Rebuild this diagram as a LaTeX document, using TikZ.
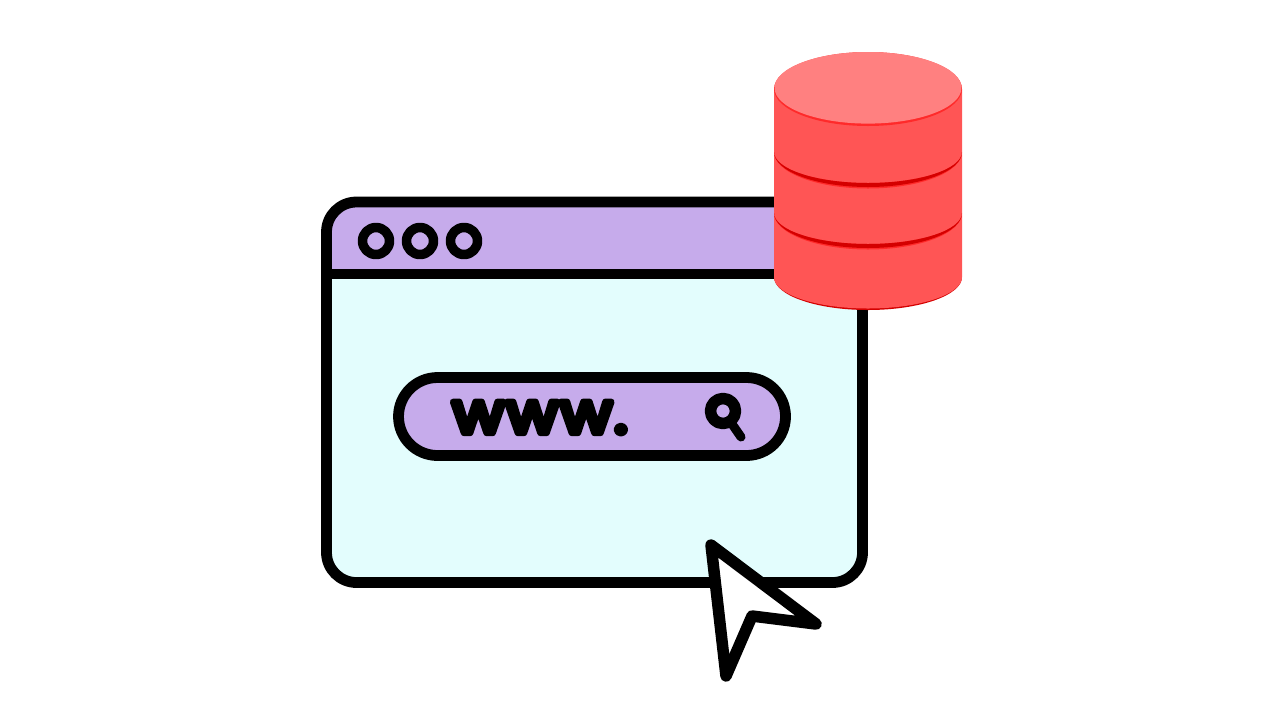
\documentclass[tikz,border=0pt]{standalone}
\usepackage{xcolor}
\usepackage{fontspec}
\usepackage{tikz}
\newfontfamily\urlfont[FakeBold=12,FakeStretch=1.12,LetterSpace=4]{Poppins}
\definecolor{myLilac}{HTML}{C6ABEB}
\definecolor{myCyan}{HTML}{E3FDFD}
\definecolor{myRedTop}{HTML}{FF8080}
\definecolor{myRedBody}{HTML}{FF5555}
\definecolor{myRedRim}{HTML}{FF2A2A}
\definecolor{myRedDark}{HTML}{D40000}

\begin{document}
\begin{tikzpicture}[x=0.01cm,y=0.01cm,line join=round,line cap=round]
  \tikzstyle{outline}=[draw=black,line width=0.108cm]
  \tikzstyle{dot}=[circle,draw=black,line width=0.095cm,fill=myLilac,inner sep=0pt,outer sep=0pt,minimum size=0.27cm]
  \tikzstyle{lens}=[circle,draw=black,line width=0.115cm,fill=myLilac,inner sep=0pt,outer sep=0pt,minimum size=0.25cm]

  \useasboundingbox (0,0) rectangle (1280,720);

  % window
  \fill[myCyan,rounded corners=0.3cm] (326.5,137.5) rectangle (862.5,518);
  \begin{scope}
    \clip[rounded corners=0.3cm] (326.5,137.5) rectangle (862.5,518);
    \fill[myLilac] (326.5,446) rectangle (862.5,518);
  \end{scope}
  \draw[outline] (326.5,446) -- (862.5,446);
  \draw[outline,rounded corners=0.3cm] (326.5,137.5) rectangle (862.5,518);

  \node[dot] (dot1) at (376,479) {};
  \node[dot] (dot2) at (420,479) {};
  \node[dot] (dot3) at (464,479) {};

  % search bar
  \draw[outline,fill=myLilac,rounded corners=0.39cm] (398.5,264.5) rectangle (785.5,342.5);
  \node[inner sep=0pt] (url) at (540,302.5) {\urlfont\fontsize{16}{16}\selectfont www.};
  \coordinate (handle) at (741,283);
  \draw[black,line width=0.09cm] (723,309) -- (handle);
  \node[lens] (glass) at (723,309) {};

  % pointer
  \draw[outline,line width=0.115cm,fill=white] (711,175) -- (816,96) -- (752,104) -- (726,44) -- cycle;

  % database
  \fill[myRedDark] (774,443) arc[start angle=180,end angle=360,x radius=94,y radius=33] -- cycle;
  \fill[myRedBody] (774,631) -- (774,443) arc[start angle=180,end angle=360,x radius=94,y radius=31.5]
    -- (962,631) -- cycle;
  \fill[myRedRim] (774,568) arc[start angle=180,end angle=360,x radius=94,y radius=36.5]
    arc[start angle=0,end angle=-180,x radius=94,y radius=31];
  \fill[myRedDark] (774,568) arc[start angle=180,end angle=360,x radius=94,y radius=35]
    arc[start angle=0,end angle=-180,x radius=94,y radius=31];
  \fill[myRedRim] (774,507) arc[start angle=180,end angle=360,x radius=94,y radius=36.5]
    arc[start angle=0,end angle=-180,x radius=94,y radius=31];
  \fill[myRedDark] (774,507) arc[start angle=180,end angle=360,x radius=94,y radius=35]
    arc[start angle=0,end angle=-180,x radius=94,y radius=31];
  \fill[myRedRim] (868,631) ellipse [x radius=94,y radius=37];
  \fill[myRedTop] (868,632.2) ellipse [x radius=93.5,y radius=35.8];
\end{tikzpicture}
\end{document}
